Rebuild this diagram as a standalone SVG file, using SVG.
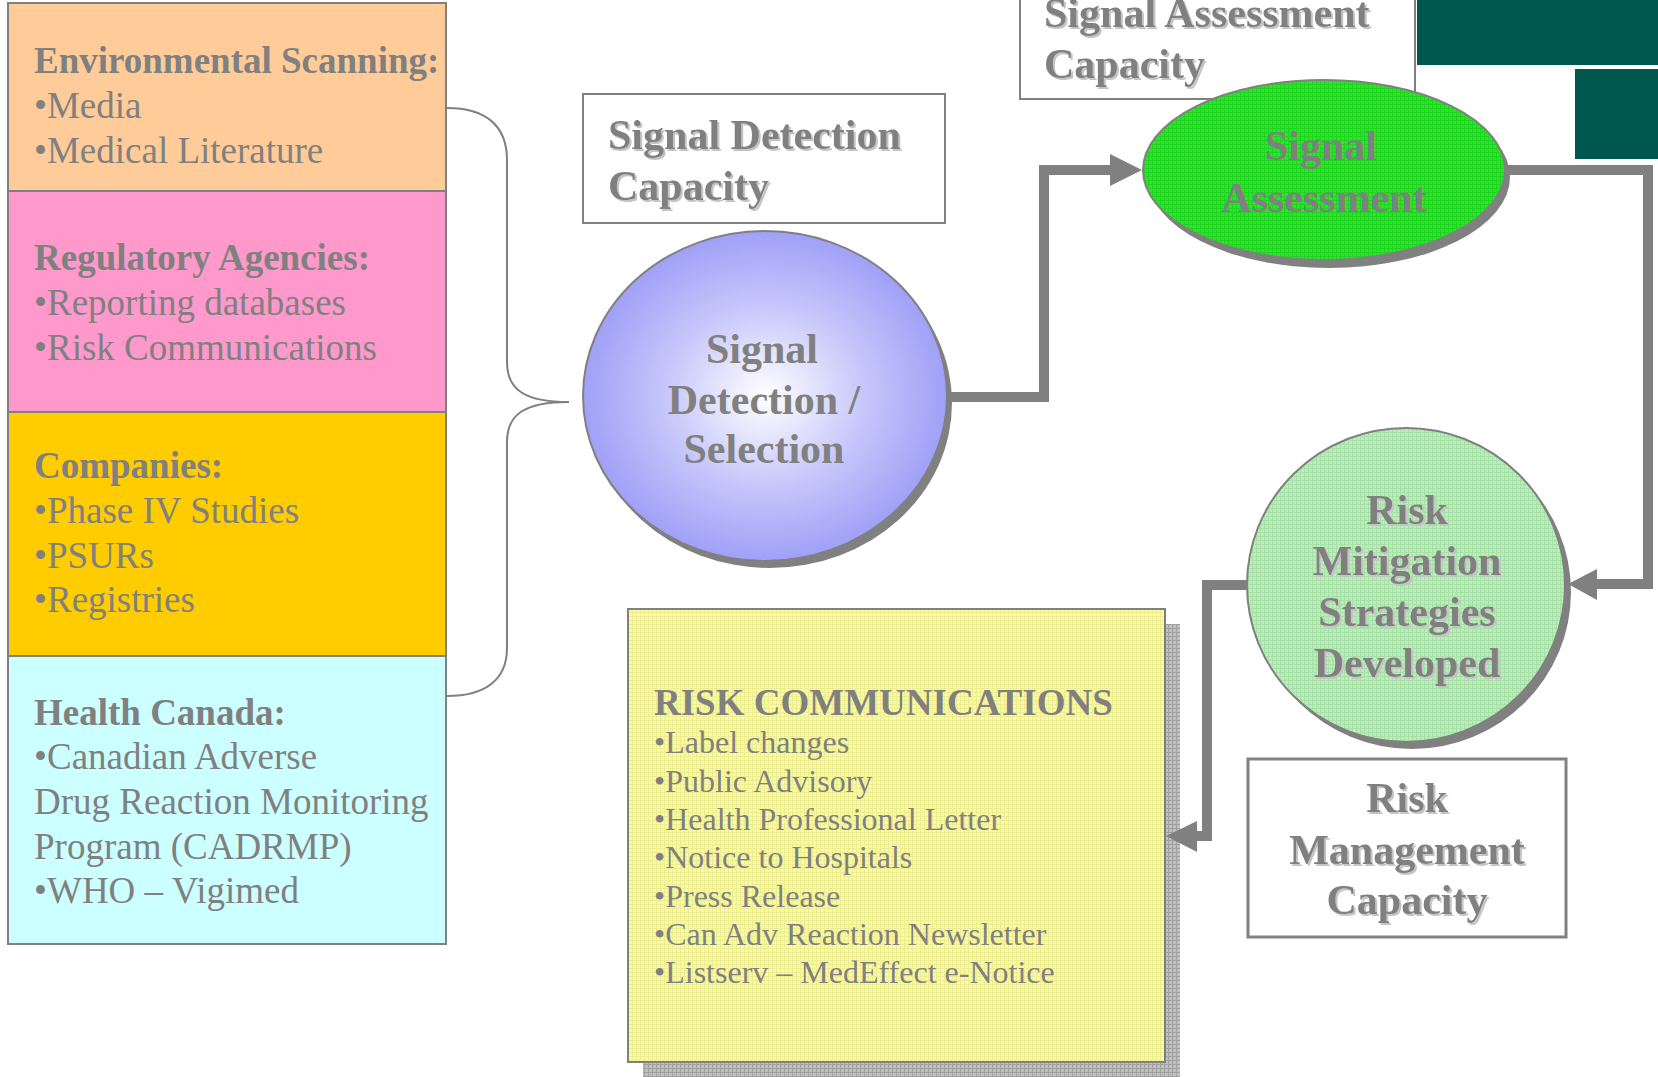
<svg xmlns="http://www.w3.org/2000/svg" width="1658" height="1077" viewBox="0 0 1658 1077">
<style>
  text { font-family: "Liberation Serif", "Times New Roman", serif; fill: #808080; }
  .h { font-weight: bold; font-size: 37px; }
  .i { font-size: 37px; }
  .cap { font-weight: bold; font-size: 42px; }
  .rc { font-size: 32px; }
  .rch { font-weight: bold; font-size: 37px; }
  .box { stroke: #808080; stroke-width: 2; }
  .conn { fill: none; stroke: #808080; stroke-width: 10; }
  .arrow { fill: #808080; }
</style>
<defs>
  <filter id="ts" x="-5%" y="-5%" width="110%" height="120%">
    <feDropShadow dx="2" dy="2" stdDeviation="0.6" flood-color="#c4c4c4" flood-opacity="1"/>
  </filter>
  <radialGradient id="blueG" cx="50%" cy="50%" r="50%">
    <stop offset="0" stop-color="#ffffff"/>
    <stop offset="0.55" stop-color="#c6c6fb"/>
    <stop offset="1" stop-color="#a0a0f7"/>
  </radialGradient>
  <pattern id="gridG" width="4" height="4" patternUnits="userSpaceOnUse">
    <rect width="4" height="4" fill="#28e628"/>
    <path d="M0,0.5H4M0.5,0V4" stroke="#1cc81c" stroke-width="1" opacity="0.6"/>
  </pattern>
  <pattern id="gridL" width="4" height="4" patternUnits="userSpaceOnUse">
    <rect width="4" height="4" fill="#b8eeb8"/>
    <path d="M0,0.5H4M0.5,0V4" stroke="#9ad89a" stroke-width="1" opacity="0.6"/>
  </pattern>
  <pattern id="gridY" width="4" height="4" patternUnits="userSpaceOnUse">
    <rect width="4" height="4" fill="#fbfb9e"/>
    <path d="M0,0.5H4M0.5,0V4" stroke="#e4e48a" stroke-width="1" opacity="0.6"/>
  </pattern>
  <pattern id="gridS" width="4" height="4" patternUnits="userSpaceOnUse">
    <rect width="4" height="4" fill="#c0c0c0"/>
    <path d="M0,0.5H4M0.5,0V4" stroke="#a0a0a0" stroke-width="1"/>
  </pattern>
</defs>

<!-- decorative dark green blocks -->
<g id="corner-blocks">
  <rect x="1417" y="0" width="241" height="65" fill="#00574e"/>
  <rect x="1575" y="69" width="83" height="90" fill="#00574e"/>
</g>

<!-- left source boxes -->
<g id="env-scanning">
  <rect class="box" x="8" y="3" width="438" height="188" fill="#ffcc99"/>
  <text class="h" x="34" y="73">Environmental Scanning:</text>
  <text class="i" x="34" y="118">•Media</text>
  <text class="i" x="34" y="163">•Medical Literature</text>
</g>
<g id="regulatory">
  <rect class="box" x="8" y="191" width="438" height="221" fill="#ff99cc"/>
  <text class="h" x="34" y="270">Regulatory Agencies:</text>
  <text class="i" x="34" y="315">•Reporting databases</text>
  <text class="i" x="34" y="360">•Risk Communications</text>
</g>
<g id="companies">
  <rect class="box" x="8" y="412" width="438" height="244" fill="#ffcc00"/>
  <text class="h" x="34" y="478">Companies:</text>
  <text class="i" x="34" y="523">•Phase IV Studies</text>
  <text class="i" x="34" y="568">•PSURs</text>
  <text class="i" x="34" y="612">•Registries</text>
</g>
<g id="health-canada">
  <rect class="box" x="8" y="656" width="438" height="288" fill="#ccffff"/>
  <text class="h" x="34" y="725">Health Canada:</text>
  <text class="i" x="34" y="769">•Canadian Adverse</text>
  <text class="i" x="34" y="814">Drug Reaction Monitoring</text>
  <text class="i" x="34" y="859">Program (CADRMP)</text>
  <text class="i" x="34" y="903">•WHO – Vigimed</text>
</g>

<!-- capacity labels -->
<g id="signal-detection-capacity">
  <rect class="box" x="583" y="94" width="362" height="129" fill="#ffffff"/>
  <g filter="url(#ts)">
    <text class="cap" x="608" y="149">Signal Detection</text>
    <text class="cap" x="608" y="200">Capacity</text>
  </g>
</g>
<g id="signal-assessment-capacity">
  <rect class="box" x="1020" y="-40" width="395" height="139" fill="#ffffff"/>
  <g filter="url(#ts)">
    <text class="cap" x="1044" y="27">Signal Assessment</text>
    <text class="cap" x="1044" y="78">Capacity</text>
  </g>
</g>

<!-- process nodes -->
<g id="signal-detection">
  <ellipse cx="770" cy="403" rx="182" ry="165" fill="#808080"/>
  <ellipse cx="765" cy="396" rx="182" ry="165" fill="url(#blueG)" stroke="#808080" stroke-width="2"/>
  <text class="cap" x="762" y="363" text-anchor="middle">Signal</text>
  <text class="cap" x="764" y="414" text-anchor="middle">Detection /</text>
  <text class="cap" x="764" y="463" text-anchor="middle">Selection</text>
</g>
<g id="signal-assessment">
  <ellipse cx="1329" cy="177" rx="181" ry="91" fill="#808080"/>
  <ellipse cx="1324" cy="170" rx="181" ry="90" fill="url(#gridG)" stroke="#808080" stroke-width="2"/>
  <text class="cap" x="1321" y="160" text-anchor="middle">Signal</text>
  <text class="cap" x="1324" y="212" text-anchor="middle">Assessment</text>
</g>
<g id="risk-mitigation">
  <ellipse cx="1412" cy="592" rx="159" ry="157" fill="#808080"/>
  <ellipse cx="1406" cy="585" rx="159" ry="157" fill="url(#gridL)" stroke="#808080" stroke-width="2"/>
  <g filter="url(#ts)">
    <text class="cap" x="1407" y="524" text-anchor="middle">Risk</text>
    <text class="cap" x="1407" y="575" text-anchor="middle">Mitigation</text>
    <text class="cap" x="1407" y="626" text-anchor="middle">Strategies</text>
    <text class="cap" x="1407" y="677" text-anchor="middle">Developed</text>
  </g>
</g>
<g id="risk-management-capacity">
  <rect class="box" x="1248" y="759" width="318" height="178" fill="#ffffff" style="stroke-width:3"/>
  <g filter="url(#ts)">
    <text class="cap" x="1407" y="812" text-anchor="middle">Risk</text>
    <text class="cap" x="1407" y="864" text-anchor="middle">Management</text>
    <text class="cap" x="1407" y="914" text-anchor="middle">Capacity</text>
  </g>
</g>
<g id="risk-communications">
  <rect x="643" y="624" width="537" height="460" fill="url(#gridS)"/>
  <rect class="box" x="628" y="609" width="537" height="453" fill="url(#gridY)"/>
  <text class="rch" x="654" y="715">RISK COMMUNICATIONS</text>
  <text class="rc" x="654" y="753">•Label changes</text>
  <text class="rc" x="654" y="792">•Public Advisory</text>
  <text class="rc" x="654" y="830">•Health Professional Letter</text>
  <text class="rc" x="654" y="868">•Notice to Hospitals</text>
  <text class="rc" x="654" y="907">•Press Release</text>
  <text class="rc" x="654" y="945">•Can Adv Reaction Newsletter</text>
  <text class="rc" x="654" y="983">•Listserv – MedEffect e-Notice</text>
</g>

<!-- connectors -->
<g id="connectors">
  <path class="conn" d="M447,108 C485,108 507,125 507,160 L507,362 C507,390 525,402 569,402 C525,402 507,414 507,442 L507,648 C507,680 485,696 447,696" style="stroke-width:2"/>
  <path class="conn" d="M947,397 H1044 V170 H1112"/>
  <polygon class="arrow" points="1110,154 1110,186 1142,170"/>
  <path class="conn" d="M1506,170 H1648 V584 H1595"/>
  <polygon class="arrow" points="1597,569 1597,600 1568,584"/>
  <path class="conn" d="M1247,585 H1207 V836 H1195"/>
  <polygon class="arrow" points="1197,821 1197,852 1166,836"/>
</g>
</svg>
